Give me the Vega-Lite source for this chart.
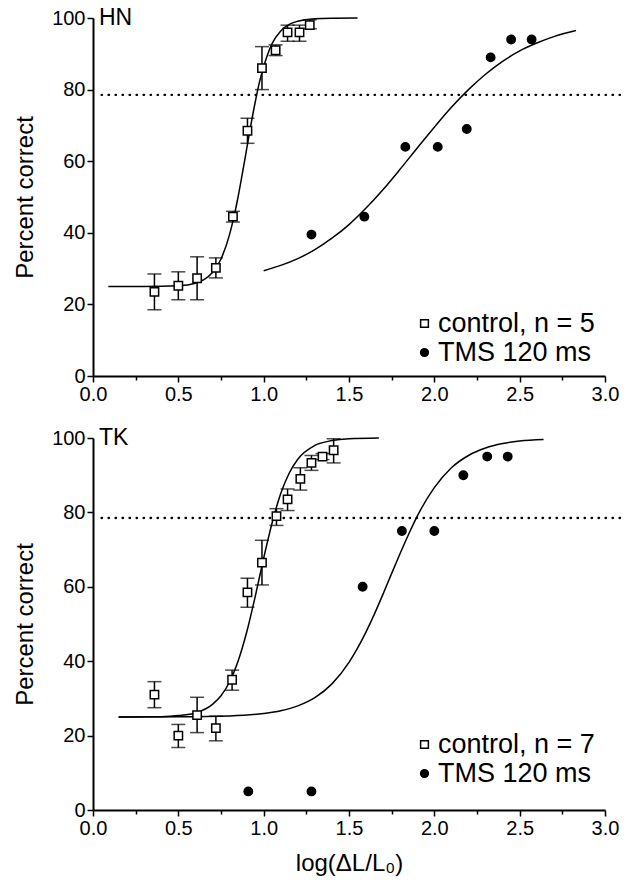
{
  "$schema": "https://vega.github.io/schema/vega-lite/v6.json",
  "background": "white",
  "padding": {"left": 13, "top": 7, "right": 10, "bottom": 6},
  "config": {
    "font": "Liberation Sans",
    "view": {"stroke": null},
    "axis": {"domainColor": "black", "domainWidth": 2, "tickColor": "black", "tickWidth": 1.5, "labelColor": "black", "labelFontSize": 20, "titleFontSize": 24, "titleFontWeight": "normal", "titleColor": "black", "grid": false, "labelFont": "Liberation Sans", "titleFont": "Liberation Sans", "labelFlush": false, "labelOverlap": false},
    "legend": {"symbolStrokeColor": "black", "symbolStrokeWidth": 1.5, "labelFontSize": 27, "labelColor": "black", "labelFont": "Liberation Sans", "symbolSize": 60, "rowPadding": 1, "labelOffset": 0}
  },
  "datasets": {
    "hn_pts": [
      {"x": 0.36, "y": 23.5, "lo": 18.5, "hi": 28.5, "series": "control, n = 5"},
      {"x": 0.5, "y": 25.2, "lo": 21.3, "hi": 29.1, "series": "control, n = 5"},
      {"x": 0.61, "y": 27.3, "lo": 21.3, "hi": 33.3, "series": "control, n = 5"},
      {"x": 0.72, "y": 30.2, "lo": 27.4, "hi": 33.0, "series": "control, n = 5"},
      {"x": 0.82, "y": 44.5, "lo": 43.0, "hi": 46.0, "series": "control, n = 5"},
      {"x": 0.905, "y": 68.5, "lo": 65.0, "hi": 72.0, "series": "control, n = 5"},
      {"x": 0.99, "y": 86.0, "lo": 80.0, "hi": 92.0, "series": "control, n = 5"},
      {"x": 1.07, "y": 91.0, "lo": 89.5, "hi": 92.5, "series": "control, n = 5"},
      {"x": 1.14, "y": 96.0, "lo": 93.5, "hi": 98.0, "series": "control, n = 5"},
      {"x": 1.21, "y": 96.0, "lo": 93.5, "hi": 98.0, "series": "control, n = 5"},
      {"x": 1.27, "y": 98.0, "lo": 97.0, "hi": 99.5, "series": "control, n = 5"},
      {"x": 1.28, "y": 39.5, "series": "TMS 120 ms"},
      {"x": 1.59, "y": 44.5, "series": "TMS 120 ms"},
      {"x": 1.83, "y": 64, "series": "TMS 120 ms"},
      {"x": 2.02, "y": 64, "series": "TMS 120 ms"},
      {"x": 2.19, "y": 69, "series": "TMS 120 ms"},
      {"x": 2.33, "y": 89, "series": "TMS 120 ms"},
      {"x": 2.45, "y": 94, "series": "TMS 120 ms"},
      {"x": 2.57, "y": 94, "series": "TMS 120 ms"}
    ],
    "hn_fit": [
      {"curve": "c", "x": 0.09, "y": 25.0}, {"curve": "c", "x": 0.3, "y": 25.0}, {"curve": "c", "x": 0.5, "y": 25.2},
      {"curve": "c", "x": 0.6, "y": 25.9}, {"curve": "c", "x": 0.65, "y": 26.9}, {"curve": "c", "x": 0.7, "y": 28.9},
      {"curve": "c", "x": 0.75, "y": 32.7}, {"curve": "c", "x": 0.8, "y": 39.5}, {"curve": "c", "x": 0.825, "y": 44.3},
      {"curve": "c", "x": 0.85, "y": 50.0}, {"curve": "c", "x": 0.875, "y": 56.5}, {"curve": "c", "x": 0.9, "y": 63.3},
      {"curve": "c", "x": 0.925, "y": 70.1}, {"curve": "c", "x": 0.95, "y": 76.4}, {"curve": "c", "x": 0.975, "y": 82.0},
      {"curve": "c", "x": 1.0, "y": 86.4}, {"curve": "c", "x": 1.05, "y": 92.9}, {"curve": "c", "x": 1.1, "y": 96.4},
      {"curve": "c", "x": 1.15, "y": 98.2}, {"curve": "c", "x": 1.2, "y": 99.1}, {"curve": "c", "x": 1.3, "y": 99.8},
      {"curve": "c", "x": 1.4, "y": 99.95}, {"curve": "c", "x": 1.55, "y": 100.0},
      {"curve": "t", "x": 1.0, "y": 29.4}, {"curve": "t", "x": 1.1, "y": 30.9}, {"curve": "t", "x": 1.2, "y": 32.8},
      {"curve": "t", "x": 1.3, "y": 35.3}, {"curve": "t", "x": 1.4, "y": 38.5}, {"curve": "t", "x": 1.5, "y": 42.3},
      {"curve": "t", "x": 1.6, "y": 46.9}, {"curve": "t", "x": 1.7, "y": 52.1}, {"curve": "t", "x": 1.8, "y": 57.8},
      {"curve": "t", "x": 1.9, "y": 63.7}, {"curve": "t", "x": 2.0, "y": 69.5}, {"curve": "t", "x": 2.1, "y": 75.05},
      {"curve": "t", "x": 2.2, "y": 80.0}, {"curve": "t", "x": 2.3, "y": 84.3}, {"curve": "t", "x": 2.4, "y": 87.9},
      {"curve": "t", "x": 2.5, "y": 90.8}, {"curve": "t", "x": 2.6, "y": 93.0}, {"curve": "t", "x": 2.7, "y": 94.8},
      {"curve": "t", "x": 2.83, "y": 96.5}
    ],
    "tk_pts": [
      {"x": 0.36, "y": 31.0, "lo": 27.5, "hi": 34.5, "series": "control, n = 7"},
      {"x": 0.5, "y": 20.0, "lo": 16.8, "hi": 23.0, "series": "control, n = 7"},
      {"x": 0.61, "y": 25.5, "lo": 20.8, "hi": 30.3, "series": "control, n = 7"},
      {"x": 0.72, "y": 22.0, "lo": 18.6, "hi": 25.2, "series": "control, n = 7"},
      {"x": 0.815, "y": 35.0, "lo": 32.2, "hi": 37.6, "series": "control, n = 7"},
      {"x": 0.905, "y": 58.5, "lo": 54.5, "hi": 62.3, "series": "control, n = 7"},
      {"x": 0.99, "y": 66.5, "lo": 60.5, "hi": 72.5, "series": "control, n = 7"},
      {"x": 1.075, "y": 79.0, "lo": 76.5, "hi": 81.0, "series": "control, n = 7"},
      {"x": 1.14, "y": 83.5, "lo": 80.5, "hi": 86.3, "series": "control, n = 7"},
      {"x": 1.215, "y": 89.0, "lo": 86.0, "hi": 92.0, "series": "control, n = 7"},
      {"x": 1.28, "y": 93.3, "lo": 91.3, "hi": 95.3, "series": "control, n = 7"},
      {"x": 1.345, "y": 95.0, "lo": 94.2, "hi": 95.8, "series": "control, n = 7"},
      {"x": 1.41, "y": 96.7, "lo": 93.3, "hi": 99.8, "series": "control, n = 7"},
      {"x": 0.91, "y": 5, "series": "TMS 120 ms"},
      {"x": 1.28, "y": 5, "series": "TMS 120 ms"},
      {"x": 1.58, "y": 60, "series": "TMS 120 ms"},
      {"x": 1.81, "y": 75, "series": "TMS 120 ms"},
      {"x": 2.0, "y": 75, "series": "TMS 120 ms"},
      {"x": 2.17, "y": 90, "series": "TMS 120 ms"},
      {"x": 2.31, "y": 95, "series": "TMS 120 ms"},
      {"x": 2.43, "y": 95, "series": "TMS 120 ms"}
    ],
    "tk_fit": [
      {"curve": "c", "x": 0.15, "y": 25.0}, {"curve": "c", "x": 0.3, "y": 25.04}, {"curve": "c", "x": 0.4, "y": 25.1},
      {"curve": "c", "x": 0.5, "y": 25.4}, {"curve": "c", "x": 0.6, "y": 26.1}, {"curve": "c", "x": 0.7, "y": 28.4},
      {"curve": "c", "x": 0.75, "y": 30.7}, {"curve": "c", "x": 0.8, "y": 34.4}, {"curve": "c", "x": 0.85, "y": 40.0},
      {"curve": "c", "x": 0.9, "y": 47.7}, {"curve": "c", "x": 0.95, "y": 57.3}, {"curve": "c", "x": 1.0, "y": 67.7},
      {"curve": "c", "x": 1.05, "y": 77.3}, {"curve": "c", "x": 1.1, "y": 85.05}, {"curve": "c", "x": 1.15, "y": 90.6},
      {"curve": "c", "x": 1.2, "y": 94.3}, {"curve": "c", "x": 1.3, "y": 98.0}, {"curve": "c", "x": 1.4, "y": 99.3},
      {"curve": "c", "x": 1.5, "y": 99.8}, {"curve": "c", "x": 1.675, "y": 100.0},
      {"curve": "t", "x": 0.15, "y": 25.0}, {"curve": "t", "x": 0.5, "y": 25.05}, {"curve": "t", "x": 0.8, "y": 25.3},
      {"curve": "t", "x": 1.0, "y": 25.96}, {"curve": "t", "x": 1.1, "y": 26.7}, {"curve": "t", "x": 1.2, "y": 28.0},
      {"curve": "t", "x": 1.3, "y": 30.2}, {"curve": "t", "x": 1.4, "y": 33.9}, {"curve": "t", "x": 1.5, "y": 39.7},
      {"curve": "t", "x": 1.55, "y": 43.5}, {"curve": "t", "x": 1.6, "y": 47.9}, {"curve": "t", "x": 1.65, "y": 52.8},
      {"curve": "t", "x": 1.7, "y": 58.1}, {"curve": "t", "x": 1.75, "y": 63.6}, {"curve": "t", "x": 1.8, "y": 69.0},
      {"curve": "t", "x": 1.85, "y": 74.2}, {"curve": "t", "x": 1.9, "y": 79.0}, {"curve": "t", "x": 2.0, "y": 86.65},
      {"curve": "t", "x": 2.1, "y": 92.0}, {"curve": "t", "x": 2.2, "y": 95.3}, {"curve": "t", "x": 2.3, "y": 97.3},
      {"curve": "t", "x": 2.4, "y": 98.5}, {"curve": "t", "x": 2.5, "y": 99.2}, {"curve": "t", "x": 2.64, "y": 99.6}
    ],
    "hn_ref": [{"x": 0.05, "x2": 3.1, "y": 78.5}],
    "tk_ref": [{"x": 0.05, "x2": 3.1, "y": 78.5}],
    "hn_lab": [{"x": 0.035, "y": 100, "label": "HN"}],
    "tk_lab": [{"x": 0.035, "y": 100, "label": "TK"}]
  },
  "spacing": 23,
  "resolve": {"scale": {"shape": "independent", "fill": "independent", "stroke": "independent"}, "legend": {"shape": "independent", "fill": "independent", "stroke": "independent"}},
  "vconcat": [
    {
      "width": 512, "height": 358,
      "layer": [
        {
          "data": {"name": "hn_ref"},
          "mark": {"type": "rule", "strokeDash": [0.5, 6.5], "strokeWidth": 2.3, "strokeCap": "round", "color": "black"},
          "encoding": {
            "x": {"field": "x", "type": "quantitative", "scale": {"domain": [0, 3], "nice": false, "zero": false},
              "axis": {"title": null, "values": [0, 0.25, 0.5, 0.75, 1, 1.25, 1.5, 1.75, 2, 2.25, 2.5, 2.75, 3], "labelExpr": "datum.value % 0.5 === 0 ? format(datum.value, '.1f') : ''", "tickSize": {"condition": {"test": "datum.value % 0.5 === 0", "value": 6}, "value": 4}, "labelPadding": 2}},
            "x2": {"field": "x2"},
            "y": {"field": "y", "type": "quantitative", "scale": {"domain": [0, 100], "nice": false},
              "axis": {"title": "Percent correct", "titlePadding": 14, "values": [0, 5, 10, 15, 20, 25, 30, 35, 40, 45, 50, 55, 60, 65, 70, 75, 80, 85, 90, 95, 100], "labelExpr": "datum.value % 20 === 0 ? datum.label : ''", "tickSize": {"condition": {"test": "datum.value % 20 === 0", "value": 6}, "value": 4}, "labelPadding": 2}}
          }
        },
        {
          "data": {"name": "hn_fit"},
          "mark": {"type": "line", "color": "black", "strokeWidth": 1.5, "interpolate": "monotone"},
          "encoding": {"x": {"field": "x", "type": "quantitative"}, "y": {"field": "y", "type": "quantitative"}, "detail": {"field": "curve"}}
        },
        {
          "data": {"name": "hn_pts"},
          "transform": [{"filter": "isValid(datum.lo)"}],
          "mark": {"type": "rule", "color": "black", "strokeWidth": 1.5},
          "encoding": {"x": {"field": "x", "type": "quantitative"}, "y": {"field": "lo", "type": "quantitative"}, "y2": {"field": "hi"}}
        },
        {
          "data": {"name": "hn_pts"},
          "transform": [{"filter": "isValid(datum.lo)"}],
          "mark": {"type": "tick", "orient": "horizontal", "color": "black", "thickness": 1.5, "size": 14},
          "encoding": {"x": {"field": "x", "type": "quantitative"}, "y": {"field": "lo", "type": "quantitative"}}
        },
        {
          "data": {"name": "hn_pts"},
          "transform": [{"filter": "isValid(datum.lo)"}],
          "mark": {"type": "tick", "orient": "horizontal", "color": "black", "thickness": 1.5, "size": 14},
          "encoding": {"x": {"field": "x", "type": "quantitative"}, "y": {"field": "hi", "type": "quantitative"}}
        },
        {
          "data": {"name": "hn_pts"},
          "mark": {"type": "point", "filled": false, "strokeWidth": 1.5, "opacity": 1},
          "encoding": {
            "x": {"field": "x", "type": "quantitative"},
            "y": {"field": "y", "type": "quantitative"},
            "shape": {"field": "series", "type": "nominal", "scale": {"domain": ["control, n = 5", "TMS 120 ms"], "range": ["square", "circle"]},
              "legend": {"title": null, "orient": "none", "legendX": 318, "legendY": 292}},
            "fill": {"field": "series", "type": "nominal", "scale": {"domain": ["control, n = 5", "TMS 120 ms"], "range": ["white", "black"]},
              "legend": {"title": null, "orient": "none", "legendX": 318, "legendY": 292}},
            "stroke": {"field": "series", "type": "nominal", "scale": {"domain": ["control, n = 5", "TMS 120 ms"], "range": ["black", "black"]},
              "legend": {"title": null, "orient": "none", "legendX": 318, "legendY": 292}},
            "size": {"value": 70}
          }
        },
        {
          "data": {"name": "hn_lab"},
          "mark": {"type": "text", "align": "left", "baseline": "middle", "fontSize": 23, "color": "black", "font": "Liberation Sans"},
          "encoding": {"x": {"field": "x", "type": "quantitative"}, "y": {"field": "y", "type": "quantitative"}, "text": {"field": "label"}}
        }
      ]
    },
    {
      "width": 512, "height": 372,
      "layer": [
        {
          "data": {"name": "tk_ref"},
          "mark": {"type": "rule", "strokeDash": [0.5, 6.5], "strokeWidth": 2.3, "strokeCap": "round", "color": "black"},
          "encoding": {
            "x": {"field": "x", "type": "quantitative", "scale": {"domain": [0, 3], "nice": false, "zero": false},
              "axis": {"title": "log(ΔL/L₀)", "titlePadding": 13, "values": [0, 0.25, 0.5, 0.75, 1, 1.25, 1.5, 1.75, 2, 2.25, 2.5, 2.75, 3], "labelExpr": "datum.value % 0.5 === 0 ? format(datum.value, '.1f') : ''", "tickSize": {"condition": {"test": "datum.value % 0.5 === 0", "value": 6}, "value": 4}, "labelPadding": 2}},
            "x2": {"field": "x2"},
            "y": {"field": "y", "type": "quantitative", "scale": {"domain": [0, 100], "nice": false},
              "axis": {"title": "Percent correct", "titlePadding": 14, "values": [0, 5, 10, 15, 20, 25, 30, 35, 40, 45, 50, 55, 60, 65, 70, 75, 80, 85, 90, 95, 100], "labelExpr": "datum.value % 20 === 0 ? datum.label : ''", "tickSize": {"condition": {"test": "datum.value % 20 === 0", "value": 6}, "value": 4}, "labelPadding": 2}}
          }
        },
        {
          "data": {"name": "tk_fit"},
          "mark": {"type": "line", "color": "black", "strokeWidth": 1.5, "interpolate": "monotone"},
          "encoding": {"x": {"field": "x", "type": "quantitative"}, "y": {"field": "y", "type": "quantitative"}, "detail": {"field": "curve"}}
        },
        {
          "data": {"name": "tk_pts"},
          "transform": [{"filter": "isValid(datum.lo)"}],
          "mark": {"type": "rule", "color": "black", "strokeWidth": 1.5},
          "encoding": {"x": {"field": "x", "type": "quantitative"}, "y": {"field": "lo", "type": "quantitative"}, "y2": {"field": "hi"}}
        },
        {
          "data": {"name": "tk_pts"},
          "transform": [{"filter": "isValid(datum.lo)"}],
          "mark": {"type": "tick", "orient": "horizontal", "color": "black", "thickness": 1.5, "size": 14},
          "encoding": {"x": {"field": "x", "type": "quantitative"}, "y": {"field": "lo", "type": "quantitative"}}
        },
        {
          "data": {"name": "tk_pts"},
          "transform": [{"filter": "isValid(datum.lo)"}],
          "mark": {"type": "tick", "orient": "horizontal", "color": "black", "thickness": 1.5, "size": 14},
          "encoding": {"x": {"field": "x", "type": "quantitative"}, "y": {"field": "hi", "type": "quantitative"}}
        },
        {
          "data": {"name": "tk_pts"},
          "mark": {"type": "point", "filled": false, "strokeWidth": 1.5, "opacity": 1},
          "encoding": {
            "x": {"field": "x", "type": "quantitative"},
            "y": {"field": "y", "type": "quantitative"},
            "shape": {"field": "series", "type": "nominal", "scale": {"domain": ["control, n = 7", "TMS 120 ms"], "range": ["square", "circle"]},
              "legend": {"title": null, "orient": "none", "legendX": 318, "legendY": 293}},
            "fill": {"field": "series", "type": "nominal", "scale": {"domain": ["control, n = 7", "TMS 120 ms"], "range": ["white", "black"]},
              "legend": {"title": null, "orient": "none", "legendX": 318, "legendY": 293}},
            "stroke": {"field": "series", "type": "nominal", "scale": {"domain": ["control, n = 7", "TMS 120 ms"], "range": ["black", "black"]},
              "legend": {"title": null, "orient": "none", "legendX": 318, "legendY": 293}},
            "size": {"value": 70}
          }
        },
        {
          "data": {"name": "tk_lab"},
          "mark": {"type": "text", "align": "left", "baseline": "middle", "fontSize": 23, "color": "black", "font": "Liberation Sans"},
          "encoding": {"x": {"field": "x", "type": "quantitative"}, "y": {"field": "y", "type": "quantitative"}, "text": {"field": "label"}}
        }
      ]
    }
  ]
}
